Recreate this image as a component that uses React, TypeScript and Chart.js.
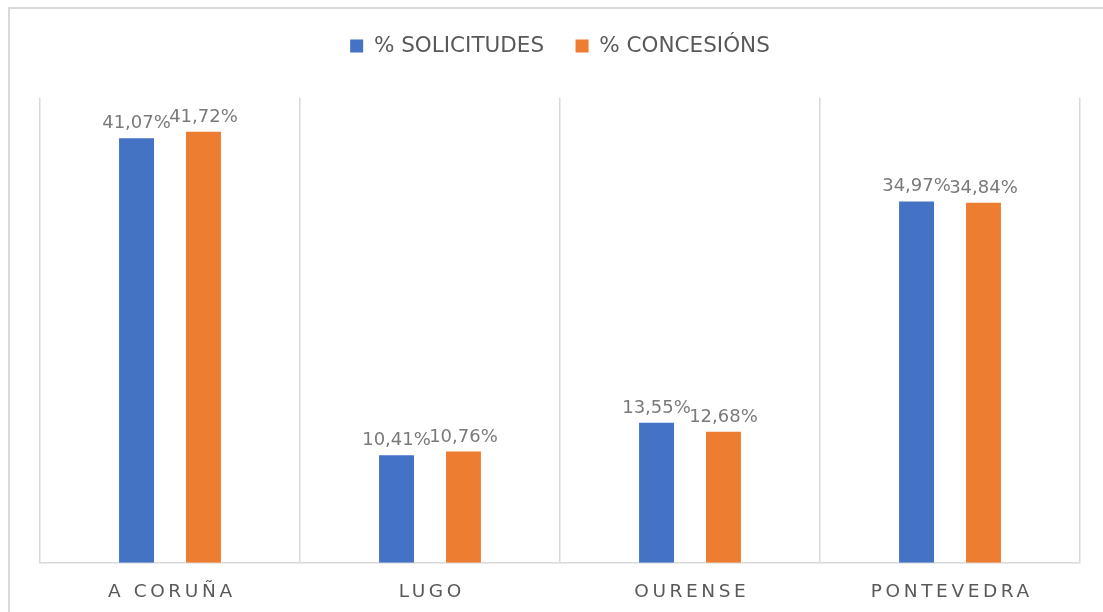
import React, { useEffect, useRef } from "react";
import { Chart, registerables } from "chart.js";

Chart.register(...registerables);

const categories = ["A CORUÑA", "LUGO", "OURENSE", "PONTEVEDRA"];
const solicitudes = [41.07, 10.41, 13.55, 34.97];
const concesions = [41.72, 10.76, 12.68, 34.84];
const seriesNames = ["% SOLICITUDES", "% CONCESIÓNS"];
const yMax = 45;

const FONT = "'DejaVu Sans', Verdana, sans-serif";
const LETTER_SPACING = 3.6;

const fmt = (v: number) => v.toFixed(2).replace(".", ",") + "%";

const legendSpacer = {
  id: "legendSpacer",
  beforeInit(chart: any) {
    const legend = chart.legend;
    if (!legend) return;
    const fit = legend.fit;
    legend.fit = function () {
      fit.call(this);
      this.height += 31;
    };
  },
};

const spacedTicks = {
  id: "spacedTicks",
  beforeDraw(chart: any) {
    const sc = chart.scales.x;
    if (!sc || sc.__spaced) return;
    const orig = sc.drawLabels;
    sc.drawLabels = function (area: any) {
      const ctx = this.ctx;
      ctx.save();
      (ctx as any).letterSpacing = LETTER_SPACING + "px";
      ctx.translate(LETTER_SPACING / 2, 0);
      orig.call(this, area);
      ctx.restore();
    };
    sc.__spaced = true;
  },
};

const dataLabels = {
  id: "dataLabels",
  afterDatasetsDraw(chart: any) {
    const ctx = chart.ctx;
    ctx.save();
    ctx.font = `18px ${FONT}`;
    ctx.fillStyle = "#7a7a7a";
    ctx.textAlign = "center";
    ctx.textBaseline = "alphabetic";
    chart.data.datasets.forEach((ds: any, di: number) => {
      const meta = chart.getDatasetMeta(di);
      meta.data.forEach((el: any, i: number) => {
        ctx.fillText(fmt(ds.data[i]), el.x, el.y - 10);
      });
    });
    ctx.restore();
  },
};

export default function App() {
  const ref = useRef<HTMLCanvasElement>(null);
  useEffect(() => {
    document.documentElement.style.overflow = "hidden";
    if (!ref.current) return;
    const chart = new Chart(ref.current, {
      type: "bar",
      data: {
        labels: categories,
        datasets: [
          { label: seriesNames[0], data: solicitudes, backgroundColor: "#4472C4", borderWidth: 0 },
          { label: seriesNames[1], data: concesions, backgroundColor: "#ED7D31", borderWidth: 0 },
        ],
      },
      options: {
        responsive: false,
        animation: false,
        devicePixelRatio: 1,
        categoryPercentage: 0.515,
        barPercentage: 0.522,
        layout: { padding: { top: -5.25, left: 30, right: 23, bottom: 0 } },
        plugins: {
          tooltip: { enabled: false },
          legend: {
            position: "top",
            align: "center",
            labels: {
              boxWidth: 13,
              boxHeight: 13,
              padding: 31.5,
              color: "#595959",
              font: { family: FONT, size: 21.5 },
            },
          },
        },
        scales: {
          x: {
            grid: { display: true, color: "#d9d9d9", lineWidth: 1.5, drawTicks: false, offset: true },
            border: { display: true, color: "#d9d9d9", width: 1.5 },
            ticks: { color: "#595959", font: { family: FONT, size: 18.5 }, padding: 18, maxRotation: 0 },
            afterFit: (s: any) => {
              s.height -= 9;
            },
          },
          y: {
            display: false,
            min: 0,
            max: yMax,
          },
        },
      } as any,
      plugins: [legendSpacer, spacedTicks, dataLabels],
    });
    return () => chart.destroy();
  }, []);
  return (
    <div
      style={{
        position: "fixed",
        left: 8,
        top: 7,
        width: 1093,
        height: 603,
        borderLeft: "2px solid #d9d9d9",
        borderTop: "2px solid #d9d9d9",
        background: "#fff",
      }}
    >
      <canvas ref={ref} width={1093} height={603} style={{ display: "block" }} />
    </div>
  );
}
